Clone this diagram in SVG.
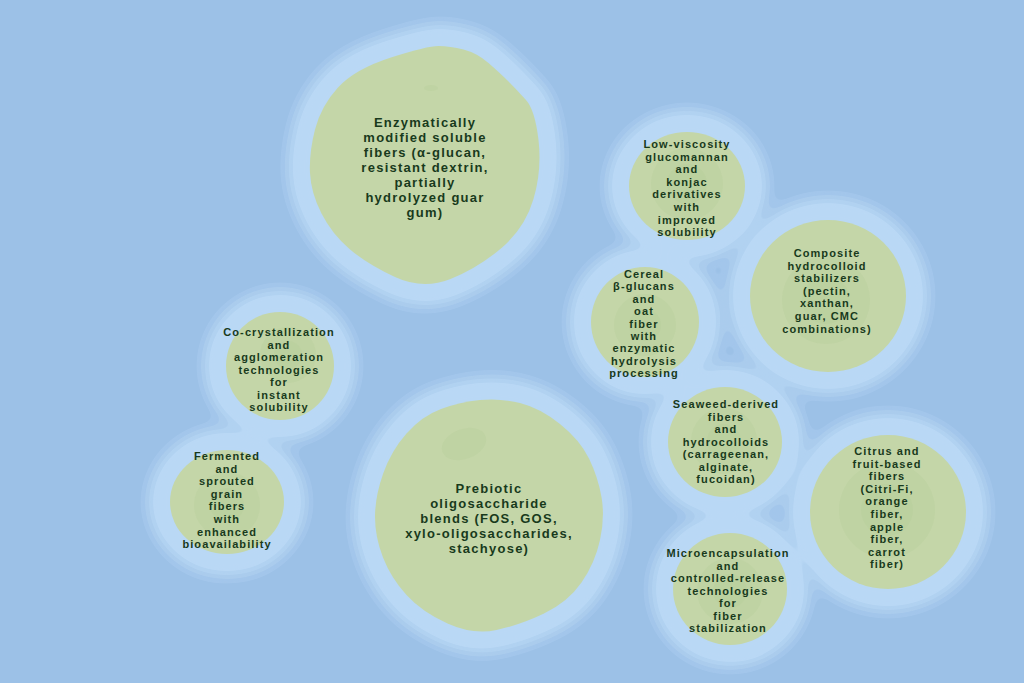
<svg xmlns="http://www.w3.org/2000/svg" xmlns:xlink="http://www.w3.org/1999/xlink" width="1024" height="683" viewBox="0 0 1024 683">
<style>
.land{fill:#c4d6a8}
.spot{fill:#b4cc98;opacity:0.32}
.t{font-family:"Liberation Sans",Arial,sans-serif;font-weight:bold;font-size:11px;letter-spacing:1.1px;fill:#183a1c;text-anchor:middle}
.tb{font-size:13px;letter-spacing:1.25px}
</style>
<defs>
<filter id="goo" filterUnits="userSpaceOnUse" x="0" y="0" width="1024" height="683">
<feGaussianBlur in="SourceGraphic" stdDeviation="6"/>
<feColorMatrix values="1 0 0 0 0  0 1 0 0 0  0 0 1 0 0  0 0 0 18 -9"/>
</filter>
<path id="s1" d="M391,57.5 Q427,46 438.5,46 Q450,46 463.5,49.5 Q477,53 488.5,63 Q500,73 508.5,81.5 Q517,90 526,100 Q535,110 538.5,140 Q542,170 533.5,199 Q525,228 501.5,248 Q478,268 450.5,279 Q423,290 395,277 Q367,264 349.5,249 Q332,234 321.5,213.5 Q311,193 310,173 Q309,153 315,129.5 Q321,106 338,87.5 Q355,69 391,57.5 Z"/>
<path id="s2" d="M480,400 Q500,398 520,403 Q540,408 560,424 Q580,440 589,458.5 Q598,477 601.5,497 Q605,517 600,540 Q595,563 581.5,582.5 Q568,602 544,613.5 Q520,625 496.5,630 Q473,635 447.5,623.5 Q422,612 406.5,595 Q391,578 383,557.5 Q375,537 375,517 Q375,497 383,474 Q391,451 406.5,433.5 Q422,416 441,409 Q460,402 480,400 Z"/>
<ellipse id="s3" cx="687" cy="186" rx="58" ry="54"/>
<ellipse id="s4" cx="828" cy="296" rx="78" ry="76"/>
<ellipse id="s5" cx="645" cy="322" rx="54" ry="55"/>
<ellipse id="s6" cx="725" cy="442" rx="57" ry="55"/>
<ellipse id="s7" cx="730" cy="589" rx="57" ry="56"/>
<ellipse id="s8" cx="888" cy="512" rx="78" ry="77"/>
<ellipse id="s9" cx="280" cy="366" rx="54" ry="54"/>
<ellipse id="s10" cx="227" cy="502" rx="57" ry="52"/>
</defs>
<rect width="1024" height="683" fill="#9cc1e7"/>
<g id="water" stroke-linejoin="round">
<g filter="url(#goo)" fill="#a3c6eb" stroke="#a3c6eb" stroke-width="60">
<use xlink:href="#s1"/><use xlink:href="#s2"/><use xlink:href="#s3"/><use xlink:href="#s4"/><use xlink:href="#s5"/><use xlink:href="#s6"/><use xlink:href="#s7"/><use xlink:href="#s8"/><use xlink:href="#s9"/><use xlink:href="#s10"/>
</g>
<g filter="url(#goo)" fill="#aacced" stroke="#aacced" stroke-width="51">
<use xlink:href="#s1"/><use xlink:href="#s2"/><use xlink:href="#s3"/><use xlink:href="#s4"/><use xlink:href="#s5"/><use xlink:href="#s6"/><use xlink:href="#s7"/><use xlink:href="#s8"/><use xlink:href="#s9"/><use xlink:href="#s10"/>
</g>
<g filter="url(#goo)" fill="#b1d2f1" stroke="#b1d2f1" stroke-width="43">
<use xlink:href="#s1"/><use xlink:href="#s2"/><use xlink:href="#s3"/><use xlink:href="#s4"/><use xlink:href="#s5"/><use xlink:href="#s6"/><use xlink:href="#s7"/><use xlink:href="#s8"/><use xlink:href="#s9"/><use xlink:href="#s10"/>
</g>
<g filter="url(#goo)" fill="#b9d8f5" stroke="#b9d8f5" stroke-width="35">
<use xlink:href="#s1"/><use xlink:href="#s2"/><use xlink:href="#s3"/><use xlink:href="#s4"/><use xlink:href="#s5"/><use xlink:href="#s6"/><use xlink:href="#s7"/><use xlink:href="#s8"/><use xlink:href="#s9"/><use xlink:href="#s10"/>
</g>
</g>
<g id="n1">
<use xlink:href="#s1" class="land"/>
<ellipse class="spot" cx="431" cy="88" rx="7" ry="3"/>
<text class="t tb"><tspan x="425" y="127">Enzymatically</tspan><tspan x="425" y="142">modified soluble</tspan><tspan x="425" y="157">fibers (α-glucan,</tspan><tspan x="425" y="172">resistant dextrin,</tspan><tspan x="425" y="187">partially</tspan><tspan x="425" y="202">hydrolyzed guar</tspan><tspan x="425" y="217">gum)</tspan></text>
</g>
<g id="n2">
<use xlink:href="#s2" class="land"/>
<ellipse class="spot" cx="464" cy="444" rx="23" ry="15" transform="rotate(-20 464 444)"/>
<text class="t tb"><tspan x="489" y="493">Prebiotic</tspan><tspan x="489" y="508">oligosaccharide</tspan><tspan x="489" y="523">blends (FOS, GOS,</tspan><tspan x="489" y="538">xylo-oligosaccharides,</tspan><tspan x="489" y="553">stachyose)</tspan></text>
</g>
<g id="n3">
<use xlink:href="#s3" class="land"/>
<circle class="spot" cx="687" cy="184" r="36"/>
<circle class="spot" cx="687" cy="184" r="20"/>
<text class="t"><tspan x="687" y="148">Low-viscosity</tspan><tspan x="687" y="160.6">glucomannan</tspan><tspan x="687" y="173.2">and</tspan><tspan x="687" y="185.8">konjac</tspan><tspan x="687" y="198.4">derivatives</tspan><tspan x="687" y="211">with</tspan><tspan x="687" y="223.6">improved</tspan><tspan x="687" y="236.2">solubility</tspan></text>
</g>
<g id="n4">
<use xlink:href="#s4" class="land"/>
<circle class="spot" cx="826" cy="300" r="44"/>
<circle class="spot" cx="826" cy="300" r="24"/>
<text class="t"><tspan x="827" y="257">Composite</tspan><tspan x="827" y="269.6">hydrocolloid</tspan><tspan x="827" y="282.2">stabilizers</tspan><tspan x="827" y="294.8">(pectin,</tspan><tspan x="827" y="307.4">xanthan,</tspan><tspan x="827" y="320">guar, CMC</tspan><tspan x="827" y="332.6">combinations)</tspan></text>
</g>
<g id="n5">
<use xlink:href="#s5" class="land"/>
<circle class="spot" cx="645" cy="325" r="31"/>
<circle class="spot" cx="645" cy="325" r="16"/>
<text class="t"><tspan x="644" y="278">Cereal</tspan><tspan x="644" y="290.4">β-glucans</tspan><tspan x="644" y="302.8">and</tspan><tspan x="644" y="315.2">oat</tspan><tspan x="644" y="327.6">fiber</tspan><tspan x="644" y="340">with</tspan><tspan x="644" y="352.4">enzymatic</tspan><tspan x="644" y="364.8">hydrolysis</tspan><tspan x="644" y="377.2">processing</tspan></text>
</g>
<g id="n6">
<use xlink:href="#s6" class="land"/>
<circle class="spot" cx="724" cy="441" r="33"/>
<circle class="spot" cx="724" cy="441" r="17"/>
<text class="t"><tspan x="726" y="408">Seaweed-derived</tspan><tspan x="726" y="420.5">fibers</tspan><tspan x="726" y="433">and</tspan><tspan x="726" y="445.5">hydrocolloids</tspan><tspan x="726" y="458">(carrageenan,</tspan><tspan x="726" y="470.5">alginate,</tspan><tspan x="726" y="483">fucoidan)</tspan></text>
</g>
<g id="n7">
<use xlink:href="#s7" class="land"/>
<circle class="spot" cx="730" cy="591" r="33"/>
<circle class="spot" cx="730" cy="591" r="17"/>
<text class="t"><tspan x="728" y="557">Microencapsulation</tspan><tspan x="728" y="569.5">and</tspan><tspan x="728" y="582">controlled-release</tspan><tspan x="728" y="594.5">technologies</tspan><tspan x="728" y="607">for</tspan><tspan x="728" y="619.5">fiber</tspan><tspan x="728" y="632">stabilization</tspan></text>
</g>
<g id="n8">
<use xlink:href="#s8" class="land"/>
<circle class="spot" cx="887" cy="510" r="48"/>
<circle class="spot" cx="887" cy="510" r="26"/>
<text class="t"><tspan x="887" y="455">Citrus and</tspan><tspan x="887" y="467.6">fruit-based</tspan><tspan x="887" y="480.2">fibers</tspan><tspan x="887" y="492.8">(Citri-Fi,</tspan><tspan x="887" y="505.4">orange</tspan><tspan x="887" y="518">fiber,</tspan><tspan x="887" y="530.6">apple</tspan><tspan x="887" y="543.2">fiber,</tspan><tspan x="887" y="555.8">carrot</tspan><tspan x="887" y="568.4">fiber)</tspan></text>
</g>
<g id="n9">
<use xlink:href="#s9" class="land"/>
<circle class="spot" cx="288" cy="355" r="28"/>
<circle class="spot" cx="288" cy="355" r="14"/>
<text class="t"><tspan x="279" y="336">Co-crystallization</tspan><tspan x="279" y="348.5">and</tspan><tspan x="279" y="361">agglomeration</tspan><tspan x="279" y="373.5">technologies</tspan><tspan x="279" y="386">for</tspan><tspan x="279" y="398.5">instant</tspan><tspan x="279" y="411">solubility</tspan></text>
</g>
<g id="n10">
<use xlink:href="#s10" class="land"/>
<circle class="spot" cx="227" cy="505" r="33"/>
<circle class="spot" cx="227" cy="505" r="17"/>
<text class="t"><tspan x="227" y="460">Fermented</tspan><tspan x="227" y="472.6">and</tspan><tspan x="227" y="485.2">sprouted</tspan><tspan x="227" y="497.8">grain</tspan><tspan x="227" y="510.4">fibers</tspan><tspan x="227" y="523">with</tspan><tspan x="227" y="535.6">enhanced</tspan><tspan x="227" y="548.2">bioavailability</tspan></text>
</g>
</svg>
